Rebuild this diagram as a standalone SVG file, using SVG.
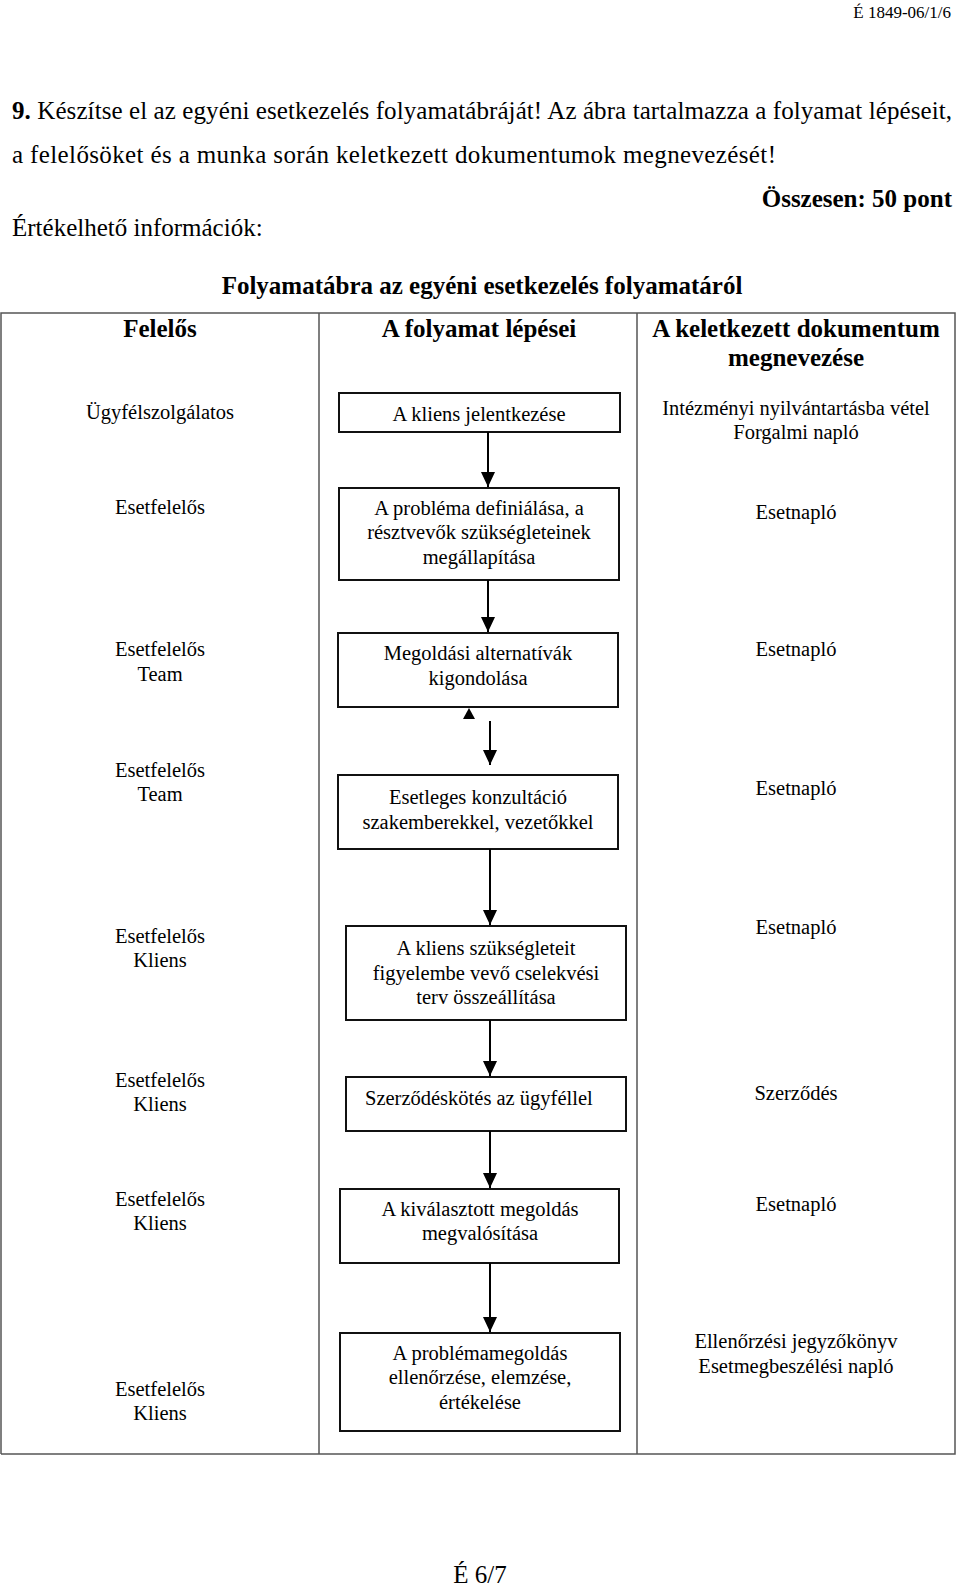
<svg xmlns="http://www.w3.org/2000/svg" width="960" height="1585" viewBox="0 0 960 1585">
<style>
text{font-family:"Liberation Serif","Times New Roman",serif;fill:#000}
.m{font-size:25px}
.b{font-weight:bold}
.t{font-size:20.5px}
.c{text-anchor:middle}
.grid{stroke:#555;stroke-width:1.5;fill:none}
.box rect{fill:#fff;stroke:#111;stroke-width:2}
.conn line{stroke:#000;stroke-width:2}
</style>
<defs>
<marker id="ah" markerUnits="userSpaceOnUse" markerWidth="16" markerHeight="14" refX="15" refY="7" orient="auto" viewBox="0 0 16 14">
<path d="M0,0 L15,7 L0,14 Z" fill="#000"/>
</marker>
</defs>
<rect width="960" height="1585" fill="#fff"/>

<g id="page-text">
<text x="951" y="18" style="font-size:17px;text-anchor:end">É 1849-06/1/6</text>
<text x="12" y="119" class="m" textLength="940"><tspan class="b">9.</tspan> Készítse el az egyéni esetkezelés folyamatábráját! Az ábra tartalmazza a folyamat lépéseit,</text>
<text x="12" y="163" class="m" textLength="764">a felelősöket és a munka során keletkezett dokumentumok megnevezését!</text>
<text x="952" y="207" class="m b" style="text-anchor:end">Összesen: 50 pont</text>
<text x="12" y="236" class="m">Értékelhető információk:</text>
<text x="482" y="294" class="m b c">Folyamatábra az egyéni esetkezelés folyamatáról</text>
<text x="480" y="1583" class="m c">É 6/7</text>
</g>

<g id="table">
<path class="grid" d="M1,1454 V313 H955 V1454 H1 M319,313 V1454 M637,313 V1454"/>
<text x="160" y="337" class="m b c">Felelős</text>
<text x="479" y="337" class="m b c">A folyamat lépései</text>
<text x="796" y="337" class="m b c">A keletkezett dokumentum</text>
<text x="796" y="366" class="m b c">megnevezése</text>
</g>

<g id="responsible" class="t c">
<text x="160" y="419">Ügyfélszolgálatos</text>
<text x="160" y="514">Esetfelelős</text>
<text x="160" y="656">Esetfelelős</text><text x="160" y="681">Team</text>
<text x="160" y="777">Esetfelelős</text><text x="160" y="801">Team</text>
<text x="160" y="943">Esetfelelős</text><text x="160" y="967">Kliens</text>
<text x="160" y="1087">Esetfelelős</text><text x="160" y="1111">Kliens</text>
<text x="160" y="1206">Esetfelelős</text><text x="160" y="1230">Kliens</text>
<text x="160" y="1396">Esetfelelős</text><text x="160" y="1420">Kliens</text>
</g>

<g id="documents" class="t c">
<text x="796" y="415">Intézményi nyilvántartásba vétel</text>
<text x="796" y="439">Forgalmi napló</text>
<text x="796" y="519">Esetnapló</text>
<text x="796" y="656">Esetnapló</text>
<text x="796" y="795">Esetnapló</text>
<text x="796" y="934">Esetnapló</text>
<text x="796" y="1100">Szerződés</text>
<text x="796" y="1211">Esetnapló</text>
<text x="796" y="1348">Ellenőrzési jegyzőkönyv</text>
<text x="796" y="1373">Esetmegbeszélési napló</text>
</g>

<g id="step1" class="box">
<rect x="339" y="393" width="281" height="39"/>
<text x="479" y="421" class="t c">A kliens jelentkezése</text>
</g>
<g id="step2" class="box">
<rect x="339" y="488" width="280" height="92"/>
<text x="479" y="515" class="t c">A probléma definiálása, a</text>
<text x="479" y="539" class="t c">résztvevők szükségleteinek</text>
<text x="479" y="564" class="t c">megállapítása</text>
</g>
<g id="step3" class="box">
<rect x="338" y="633" width="280" height="74"/>
<text x="478" y="660" class="t c">Megoldási alternatívák</text>
<text x="478" y="685" class="t c">kigondolása</text>
</g>
<g id="step4" class="box">
<rect x="338" y="775" width="280" height="74"/>
<text x="478" y="804" class="t c">Esetleges konzultáció</text>
<text x="478" y="829" class="t c">szakemberekkel, vezetőkkel</text>
</g>
<g id="step5" class="box">
<rect x="346" y="926" width="280" height="94"/>
<text x="486" y="955" class="t c">A kliens szükségleteit</text>
<text x="486" y="980" class="t c">figyelembe vevő cselekvési</text>
<text x="486" y="1004" class="t c">terv összeállítása</text>
</g>
<g id="step6" class="box">
<rect x="346" y="1077" width="280" height="54"/>
<text x="365" y="1105" class="t">Szerződéskötés az ügyféllel</text>
</g>
<g id="step7" class="box">
<rect x="340" y="1189" width="279" height="74"/>
<text x="480" y="1216" class="t c">A kiválasztott megoldás</text>
<text x="480" y="1240" class="t c">megvalósítása</text>
</g>
<g id="step8" class="box">
<rect x="340" y="1333" width="280" height="98"/>
<text x="480" y="1360" class="t c">A problémamegoldás</text>
<text x="480" y="1384" class="t c">ellenőrzése, elemzése,</text>
<text x="480" y="1409" class="t c">értékelése</text>
</g>

<g id="connectors" class="conn">
<line x1="488" y1="432" x2="488" y2="487" marker-end="url(#ah)"/>
<line x1="488" y1="580" x2="488" y2="632" marker-end="url(#ah)"/>
<path d="M463,719 L475,719 L469,708 Z" fill="#000"/>
<line x1="490" y1="721" x2="490" y2="765" marker-end="url(#ah)"/>
<line x1="490" y1="849" x2="490" y2="925" marker-end="url(#ah)"/>
<line x1="490" y1="1020" x2="490" y2="1076" marker-end="url(#ah)"/>
<line x1="490" y1="1131" x2="490" y2="1188" marker-end="url(#ah)"/>
<line x1="490" y1="1263" x2="490" y2="1332" marker-end="url(#ah)"/>
</g>
</svg>
